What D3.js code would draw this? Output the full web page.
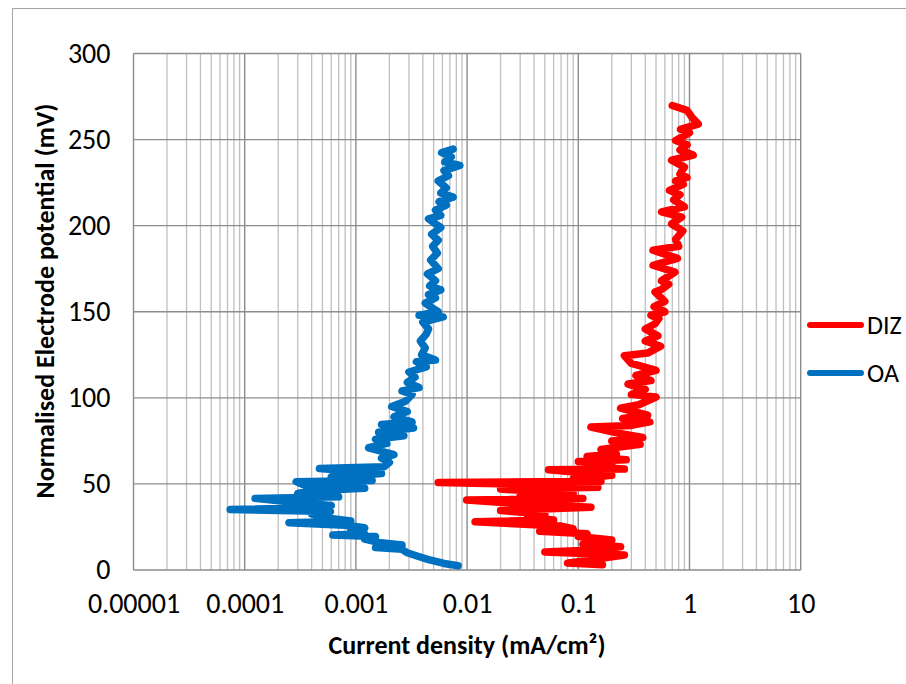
<!DOCTYPE html>
<html>
<head>
<meta charset="utf-8">
<script src="https://cdn.jsdelivr.net/npm/d3@7"></script>
<style>
  html, body { margin: 0; padding: 0; background: #ffffff; }
  svg { display: block; }
  text { font-family: Calibri, Carlito, Lato, "Open Sans", sans-serif; fill: #000; }
</style>
</head>
<body>
<svg id="chart" width="906" height="684"></svg>
<script>
// Polarisation curves: potential (mV) vs current density (mA/cm²), log x axis
const seriesNames = ["DIZ", "OA"];
const seriesColors = ["#ff0000", "#0070c0"];

const potentialTicks = [0, 50, 100, 150, 200, 250, 300];
const currentTicks = [1e-5, 1e-4, 1e-3, 1e-2, 1e-1, 1, 10];
const currentTickLabels = ["0.00001", "0.0001", "0.001", "0.01", "0.1", "1", "10"];

// DIZ: [potential mV, current density mA/cm²]
const dizPotential = [3.0, 4.0, 8.7, 10.5, 11.5, 13.5, 15, 17.4, 19.5, 21, 22.5, 24, 25.5, 28, 29, 30.5, 32.5, 34.5, 36.5, 38, 40.6, 41.5, 43, 44.5, 47, 48, 49.5, 50.8, 51.5, 53, 55, 58.2, 58.6, 60, 61.5, 63, 64, 66, 67.5, 70, 73, 75, 77, 79, 83, 84, 86, 88, 90, 94, 96, 100.5, 102, 105, 108, 110, 113, 116, 120, 124.5, 126, 130, 133, 136, 140, 143, 146, 148, 150, 153, 156, 161.5, 163, 166, 168, 173, 177, 181, 185.7, 188, 192, 197, 201, 205, 208, 211, 215, 218, 220.5, 224, 226, 228, 230, 234, 238, 241, 244, 247, 249.5, 254, 256, 259, 263, 267, 269.8];
const dizCurrent = [0.165, 0.08, 0.26, 0.05, 0.12, 0.24, 0.11, 0.2, 0.1, 0.12, 0.045, 0.09, 0.07, 0.0118, 0.06, 0.035, 0.05, 0.02, 0.13, 0.04, 0.0099, 0.11, 0.03, 0.09, 0.02, 0.15, 0.06, 0.0055, 0.16, 0.09, 0.2, 0.054, 0.26, 0.12, 0.2, 0.1, 0.27, 0.12, 0.22, 0.16, 0.36, 0.2, 0.38, 0.25, 0.13, 0.3, 0.44, 0.25, 0.42, 0.24, 0.35, 0.5, 0.3, 0.4, 0.28, 0.45, 0.33, 0.5, 0.3, 0.26, 0.42, 0.55, 0.4, 0.52, 0.4, 0.49, 0.53, 0.45, 0.6, 0.48, 0.6, 0.49, 0.56, 0.65, 0.56, 0.74, 0.47, 0.78, 0.47, 0.8, 0.75, 0.87, 0.69, 0.85, 0.56, 0.9, 0.72, 0.82, 0.66, 0.88, 0.75, 0.95, 0.82, 0.9, 0.69, 1.08, 0.82, 0.95, 0.75, 1.0, 0.83, 1.2, 1.05, 0.95, 0.7];

// OA: [potential mV, current density mA/cm²]
const oaPotential = [2.5, 3.8, 6, 8, 10, 12, 13, 14.5, 16, 18, 19.5, 20.3, 21, 23, 24.5, 26, 27.5, 28.5, 30.5, 32.5, 34, 35.2, 36, 37.5, 39, 41.6, 42.5, 44.5, 46, 47.5, 49, 51.3, 52, 54, 56, 59, 60, 62.5, 65, 67, 71, 73.5, 76, 78, 80, 82.5, 84.5, 86, 89, 92, 95, 98, 102, 104, 106, 109, 112, 115, 118, 121, 122, 125, 129, 133, 137, 140, 144, 147, 148, 150, 152.8, 155, 158, 160, 162.7, 165, 168, 172, 175, 180, 184, 188, 191.5, 195, 199, 201, 204, 206, 209, 212, 214, 216.6, 219, 222, 226, 229, 232, 235, 237, 240, 242.5, 244.5];
const oaCurrent = [0.0083, 0.0062, 0.0045, 0.0036, 0.0029, 0.0026, 0.0015, 0.0026, 0.0016, 0.0012, 0.0015, 0.00062, 0.0012, 0.0009, 0.0012, 0.0008, 0.00025, 0.0009, 0.0005, 0.0004, 0.00059, 0.000074, 0.00045, 0.0006, 0.0003, 0.000124, 0.0007, 0.0003, 0.0004, 0.0012, 0.00035, 0.00029, 0.0014, 0.0006, 0.0017, 0.00047, 0.0018, 0.002, 0.0017, 0.0022, 0.0013, 0.0019, 0.0015, 0.0027, 0.0016, 0.0033, 0.0017, 0.0032, 0.0022, 0.0029, 0.0021, 0.0028, 0.0032, 0.0026, 0.0037, 0.0029, 0.0034, 0.003, 0.0043, 0.0035, 0.0052, 0.0039, 0.0042, 0.0038, 0.0043, 0.0045, 0.004, 0.0061, 0.0037, 0.0055, 0.0047, 0.0042, 0.0052, 0.0045, 0.0058, 0.0046, 0.0052, 0.0044, 0.0055, 0.0047, 0.0054, 0.0049, 0.0055, 0.0048, 0.0058, 0.0052, 0.0045, 0.0058, 0.0052, 0.0065, 0.0056, 0.0075, 0.0058, 0.0065, 0.0055, 0.0068, 0.0062, 0.0086, 0.0063, 0.0072, 0.0059, 0.0075];

const series = [
  { name: seriesNames[0], color: seriesColors[0], pts: dizPotential.map((p, i) => [p, dizCurrent[i]]) },
  { name: seriesNames[1], color: seriesColors[1], pts: oaPotential.map((p, i) => [p, oaCurrent[i]]) }
];

const svg = d3.select("#chart");
const plot = { left: 133.5, right: 800.7, top: 53.5, bottom: 570 };

const x = d3.scaleLog().domain([1e-5, 10]).range([plot.left, plot.right]);
const y = d3.scaleLinear().domain([0, 300]).range([plot.bottom, plot.top]);

// chart frame
svg.append("rect")
  .attr("x", 12.5).attr("y", 8.5).attr("width", 900).attr("height", 690)
  .attr("fill", "#fff").attr("stroke", "#a6a6a6").attr("stroke-width", 1);

// minor vertical gridlines
const minor = [];
for (let e = -5; e < 1; e++) {
  for (let m = 2; m <= 9; m++) minor.push(m * Math.pow(10, e));
}
svg.append("g").selectAll("line").data(minor).join("line")
  .attr("x1", d => x(d)).attr("x2", d => x(d))
  .attr("y1", plot.top).attr("y2", plot.bottom)
  .attr("stroke", "#bfbfbf").attr("stroke-width", 1.3);

// major vertical gridlines
svg.append("g").selectAll("line").data(currentTicks).join("line")
  .attr("x1", d => x(d)).attr("x2", d => x(d))
  .attr("y1", plot.top).attr("y2", plot.bottom)
  .attr("stroke", "#8c8c8c").attr("stroke-width", 1.4);

// horizontal gridlines
svg.append("g").selectAll("line").data(potentialTicks).join("line")
  .attr("x1", plot.left).attr("x2", plot.right)
  .attr("y1", d => y(d)).attr("y2", d => y(d))
  .attr("stroke", "#8c8c8c").attr("stroke-width", 1.4);

// y axis tick labels
const yAxis = d3.axisLeft(y).tickValues(potentialTicks).tickSize(0).tickPadding(23);
const gy = svg.append("g").attr("transform", `translate(${plot.left},0)`).call(yAxis);
gy.select(".domain").remove();
gy.selectAll("text").style("font-size", "28px").style("font-family", "Calibri, Carlito, Lato, sans-serif");

// x axis tick labels
const xAxis = d3.axisBottom(x).tickValues(currentTicks).tickSize(0).tickPadding(23)
  .tickFormat((d, i) => currentTickLabels[i]);
const gx = svg.append("g").attr("transform", `translate(0,${plot.bottom})`).call(xAxis);
gx.select(".domain").remove();
gx.selectAll("text").style("font-size", "28px").style("font-family", "Calibri, Carlito, Lato, sans-serif");

// data lines
const line = d3.line().x(d => x(d[1])).y(d => y(d[0]));
svg.append("g").selectAll("path").data(series).join("path")
  .attr("d", d => line(d.pts))
  .attr("fill", "none")
  .attr("stroke", d => d.color)
  .attr("stroke-width", 7.5)
  .attr("stroke-linejoin", "round")
  .attr("stroke-linecap", "round");

// axis titles
svg.append("text")
  .attr("x", 467).attr("y", 654)
  .attr("text-anchor", "middle")
  .style("font-size", "26px").style("font-weight", "bold")
  .text("Current density (mA/cm²)");

svg.append("text")
  .attr("transform", "translate(54,301) rotate(-90)")
  .attr("text-anchor", "middle")
  .style("font-size", "26px").style("font-weight", "bold")
  .text("Normalised Electrode potential (mV)");

// legend
const legend = svg.append("g").selectAll("g").data(series).join("g")
  .attr("transform", (d, i) => `translate(0,${325 + i * 48})`);
legend.append("line")
  .attr("x1", 810).attr("x2", 861).attr("y1", 0).attr("y2", 0)
  .attr("stroke", d => d.color).attr("stroke-width", 6).attr("stroke-linecap", "round");
legend.append("text")
  .attr("x", 867).attr("y", 9)
  .style("font-size", "26px")
  .text(d => d.name);
</script>
</body>
</html>
